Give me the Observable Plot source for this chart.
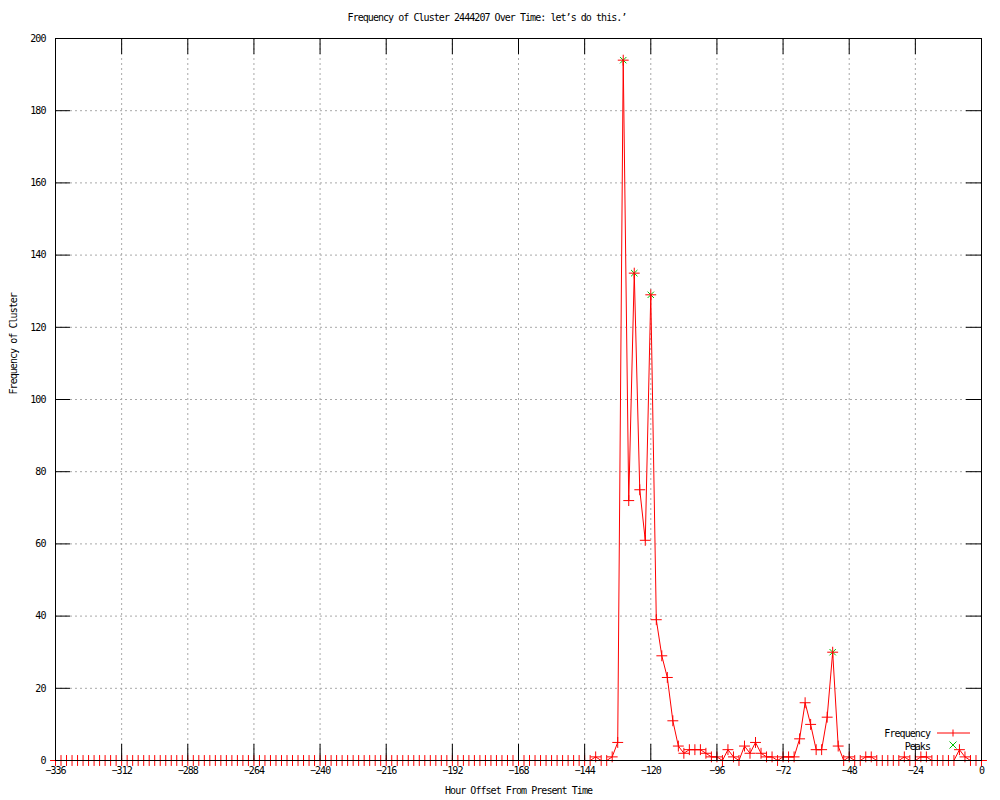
<!DOCTYPE html>
<html>
<head>
<meta charset="utf-8">
<script src="https://cdn.jsdelivr.net/npm/d3@7"></script>
<script src="https://cdn.jsdelivr.net/npm/@observablehq/plot@0.6"></script>
<style>
  html, body { margin: 0; padding: 0; background: #fff; }
  #title { position: relative; height: 30px; width: 1000px; font-family: "DejaVu Sans Mono", monospace; font-size: 10px; letter-spacing: -0.95px; color: #000; }
  #title span { position: absolute; left: 487px; top: 12px; line-height: 12px; transform: translateX(-50%); white-space: pre; }
  svg text { letter-spacing: -0.95px; }
</style>
</head>
<body>
<div id="title"><span>Frequency of Cluster 2444207 Over Time: let’s do this.’</span></div>
<div id="chart"></div>
<script>
// Hour offsets (every 2 hours from -336 to 0)
const hours = d3.range(-336, 1, 2);

// Frequency values, one per hour offset
const frequency = [
  0,0,0,0,0,0,0,0,0,0,0,0,0,0,0,0,0,0,0,0,0,0,0,0,   // -336 .. -290
  0,0,0,0,0,0,0,0,0,0,0,0,0,0,0,0,0,0,0,0,0,0,0,0,   // -288 .. -242
  0,0,0,0,0,0,0,0,0,0,0,0,0,0,0,0,0,0,0,0,0,0,0,0,   // -240 .. -194
  0,0,0,0,0,0,0,0,0,0,0,0,0,0,0,0,0,0,0,0,0,0,0,0,   // -192 .. -146
  0,0,1,0,0,1,5,194,72,135,75,61,                    // -144 .. -122
  129,39,29,23,11,4,2,3,3,3,2,1,                     // -120 .. -98
  1,0,3,1,0,4,2,5,2,1,1,0,                           // -96 .. -74
  1,1,1,6,16,10,3,3,12,30,4,0,                       // -72 .. -50
  1,0,0,1,1,0,0,0,0,0,1,0,                           // -48 .. -26
  0,1,1,0,0,0,0,0,3,1,0,0,                           // -24 .. -2
  0                                                  // 0
];

// Detected peaks
const peakHours = [-130, -126, -120, -54];
const peakValues = [194, 135, 129, 30];

// Tick values
const xTicks = [-336, -312, -288, -264, -240, -216, -192, -168, -144, -120, -96, -72, -48, -24, 0];
const yTicks = [0, 20, 40, 60, 80, 100, 120, 140, 160, 180, 200];

const seriesData = hours.map((h, i) => ({hour: h, value: frequency[i]}));
const peakData = peakHours.map((h, i) => ({hour: h, value: peakValues[i]}));

const RED = "#ff0000";
const GREEN = "#00c000";
const GRID = "#a8a8a8";
const xTickLen = 4.43;  // in y units (~16px)
const yTickLen = 5.44;  // in x units (~15px)

const chart = Plot.plot({
  width: 1000,
  height: 770,
  marginLeft: 55,
  marginRight: 19,
  marginTop: 8,
  marginBottom: 40,
  style: {fontFamily: "DejaVu Sans Mono, monospace", fontSize: "10px", background: "#fff", color: "#000", overflow: "visible"},
  x: {domain: [-336, 0], axis: null},
  y: {domain: [0, 200], axis: null},
  marks: [
    // grid
    Plot.ruleX(xTicks.slice(1, -1), {x: d => d, stroke: GRID, strokeDasharray: "2,3", strokeWidth: 1}),
    Plot.ruleY(yTicks.slice(1, -1), {y: d => d, stroke: GRID, strokeDasharray: "2,3", strokeWidth: 1}),
    // peaks (green x)
    Plot.dot(peakData, {x: "hour", y: "value", symbol: "times", r: 3.0, stroke: GREEN, strokeWidth: 1}),
    // frequency line and points
    Plot.line(seriesData, {x: "hour", y: "value", stroke: RED, strokeWidth: 1}),
    Plot.dot(seriesData, {x: "hour", y: "value", symbol: "plus", r: 3.6, stroke: RED, strokeWidth: 1}),
    // frame
    Plot.frame({stroke: "#000", strokeWidth: 1}),
    // ticks (inward, mirrored)
    Plot.ruleX(xTicks, {x: d => d, y1: 0, y2: xTickLen, stroke: "#000"}),
    Plot.ruleX(xTicks, {x: d => d, y1: 200 - xTickLen, y2: 200, stroke: "#000"}),
    Plot.ruleY(yTicks, {y: d => d, x1: -336, x2: -336 + yTickLen, stroke: "#000"}),
    Plot.ruleY(yTicks, {y: d => d, x1: -yTickLen, x2: 0, stroke: "#000"}),
    // tick labels
    Plot.text(xTicks, {x: d => d, text: d => d === 0 ? "0" : "−" + Math.abs(d), frameAnchor: "bottom", dy: 13, fill: "#000"}),
    Plot.text(yTicks, {y: d => d, text: d => String(d), frameAnchor: "left", dx: -10, textAnchor: "end", fill: "#000"}),
    // axis labels
    Plot.text(["Hour Offset From Present Time"], {frameAnchor: "bottom", dy: 33, fill: "#000"}),
    Plot.text(["Frequency of Cluster"], {frameAnchor: "left", dx: -42, dy: -5, rotate: -90, fill: "#000"})
  ]
});

document.getElementById("chart").appendChild(chart);

// Legend (inside the plot, bottom-right)
const svg = d3.select(chart);
const lg = svg.append("g").attr("font-family", "DejaVu Sans Mono, monospace").attr("font-size", "10px");
lg.append("text").attr("x", 930).attr("y", 703).attr("text-anchor", "end").attr("dominant-baseline", "central").attr("fill", "#000").text("Frequency");
lg.append("line").attr("x1", 937).attr("x2", 970).attr("y1", 703).attr("y2", 703).attr("stroke", RED);
lg.append("line").attr("x1", 953).attr("x2", 953).attr("y1", 699.5).attr("y2", 706.5).attr("stroke", RED);
lg.append("text").attr("x", 930).attr("y", 716).attr("text-anchor", "end").attr("dominant-baseline", "central").attr("fill", "#000").text("Peaks");
lg.append("path").attr("d", "M949.5,711.5L956.5,718.5M949.5,718.5L956.5,711.5").attr("stroke", GREEN).attr("fill", "none");
</script>
</body>
</html>
